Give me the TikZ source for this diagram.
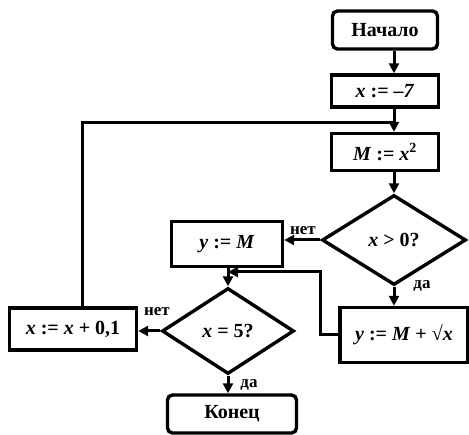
\documentclass[tikz,border=0pt]{standalone}
\usepackage{fontspec}
\setmainfont{Liberation Serif}
\usetikzlibrary{arrows.meta,shapes.geometric,calc}
\newcommand{\vx}[1]{\textit{#1}}
\begin{document}
\begin{tikzpicture}[x=1pt,y=-1pt,
  every node/.style={font=\fontsize{20}{22}\selectfont\bfseries},
  blk/.style={draw,line width=3.4pt,rectangle,inner sep=0pt},
  term/.style={blk,rounded corners=5pt},
  dec/.style={draw,line width=3.4pt,shape=diamond,inner sep=0pt},
  lbl/.style={font=\fontsize{17}{19}\selectfont\bfseries,inner sep=1pt},
  ln/.style={line width=3pt},
  arr/.style={ln,-{Triangle[length=10pt,width=10pt]}}]
\useasboundingbox (0,0) rectangle (469,435);
\node[term,minimum width=105pt,minimum height=38pt] (start) at (385,30) {Начало};
\node[blk,minimum width=107pt,minimum height=32pt] (xinit) at (385,91) {\vx{x} := –\vx{7}};
\node[blk,minimum width=107pt,minimum height=37pt] (msq) at (385,152) {\vx{M} := \vx{x}\textsuperscript{2}};
\node[dec,minimum width=144pt,minimum height=90pt] (d1) at (394,240) {\vx{x} > 0?};
\node[blk,minimum width=111pt,minimum height=45pt] (ym) at (227,244) {\vx{y} := \vx{M}};
\node[blk,minimum width=128pt,minimum height=55pt] (ysum) at (404,335) {\vx{y} := \vx{M} + √\vx{x}};
\node[dec,minimum width=132pt,minimum height=86pt] (d2) at (228,331) {\vx{x} = 5?};
\node[blk,minimum width=127pt,minimum height=42pt] (xadd) at (73,329) {\vx{x} := \vx{x} + 0,1};
\node[term,minimum width=129pt,minimum height=38pt] (stop) at (232,414) {Конец};
\node[lbl] (l1) at (303,231) {нет};
\node[lbl] (l2) at (422,286) {да};
\node[lbl] (l3) at (157,312) {нет};
\node[lbl] (l4) at (249,385) {да};
\coordinate (la) at (82,123);
\coordinate (lb) at (394,123);
\coordinate (jn) at (228,272);
\coordinate (rc) at (320,335);
\draw[arr] (start.south -| 394,0) -- (xinit.north -| 394,0);
\draw[arr] (xinit.south -| 394,0) -- (msq.north -| 394,0);
\draw[arr] (msq.south -| 394,0) -- (d1.north);
\draw[ln] (xadd.north -| la) -- (la) -- (lb);
\draw[arr] (d1.west) -- (ym.east |- d1.west);
\draw[arr] (d1.south) -- (ysum.north -| d1.south);
\draw[arr] (ysum.west) -- (rc) |- (jn);
\draw[arr] (ym.south -| jn) -- (d2.north);
\draw[arr] (d2.west) -- (xadd.east |- d2.west);
\draw[arr] (d2.south) -- (stop.north -| d2.south);
\end{tikzpicture}
\end{document}
